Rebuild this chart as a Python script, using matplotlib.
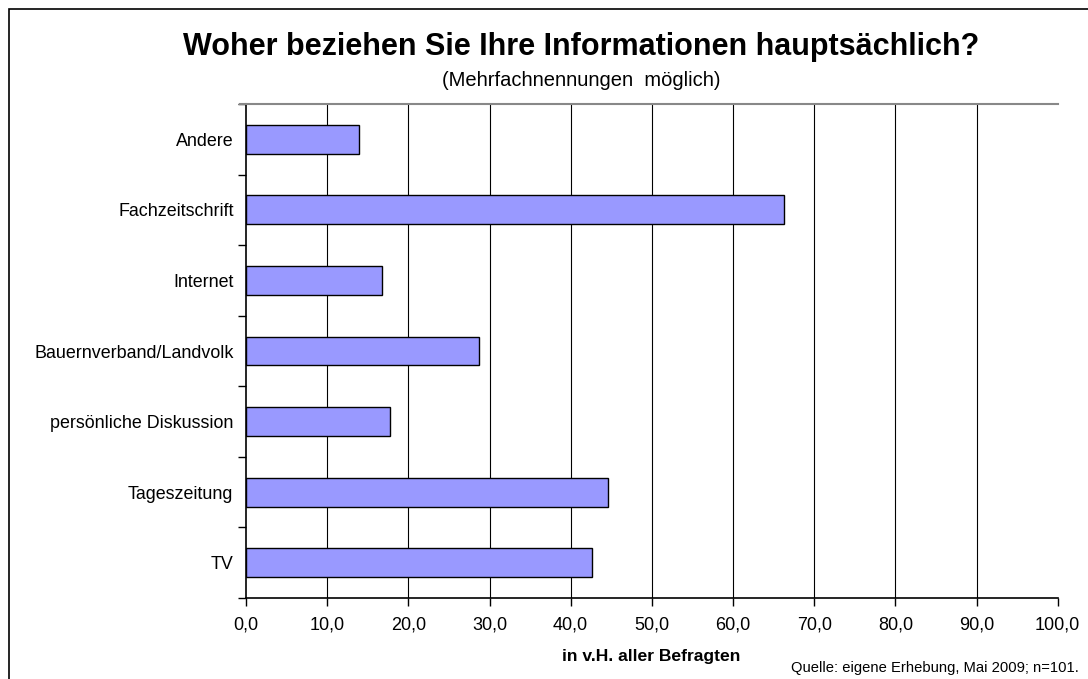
import matplotlib
matplotlib.use("Agg")
import matplotlib.pyplot as plt
from matplotlib.patches import Rectangle
from matplotlib.ticker import FixedLocator

plt.rcParams['font.family'] = ['Liberation Sans', 'DejaVu Sans']

categories = ["TV", "Tageszeitung", "persönliche Diskussion", "Bauernverband/Landvolk",
              "Internet", "Fachzeitschrift", "Andere"]
values = [42.6, 44.6, 17.8, 28.7, 16.8, 66.3, 13.9]
xticks = [0, 10, 20, 30, 40, 50, 60, 70, 80, 90, 100]

W, H = 1088, 679
fig = plt.figure(figsize=(W/100, H/100), dpi=100)
ax = fig.add_axes([246/W, 1-598/H, (1057.7-246)/W, (598-104)/H])

y = list(range(len(categories)))
ax.barh(y, values, height=0.41, color="#9999FF", edgecolor="black", linewidth=1.0, zorder=3)
ax.set_xlim(0, 100)
ax.set_ylim(-0.5, len(categories)-0.5)
ax.set_yticks(y)
ax.set_yticklabels(categories, fontsize=12.9)
ax.yaxis.set_minor_locator(FixedLocator([i - 0.5 for i in range(len(categories)+1)]))
ax.tick_params(axis='y', which='major', length=0, pad=9)
ax.tick_params(axis='y', which='minor', length=6, width=1, direction='out')
ax.set_xticks(xticks)
ax.set_xticklabels([f"{v:.1f}".replace('.', ',') for v in xticks], fontsize=13)
ax.tick_params(axis='x', length=6, width=1, direction='out', pad=7)

for v in xticks[1:-1]:
    ax.axvline(v, color="black", linewidth=0.8, zorder=1)

ax.spines['right'].set_visible(False)
ax.spines['top'].set_color('#888888')
ax.spines['top'].set_linewidth(1.5)
ax.spines['left'].set_linewidth(1.2)
ax.spines['bottom'].set_linewidth(1.2)
ax.plot([-0.75, 0], [len(categories)-0.5]*2, color='#888888', lw=1.5, clip_on=False)

fig.text(581/W, 1-47/H, "Woher beziehen Sie Ihre Informationen hauptsächlich?",
         ha='center', va='center', fontsize=22, fontweight='bold')
fig.text(581/W, 1-80/H, "(Mehrfachnennungen  möglich)", ha='center', va='center', fontsize=14.5)
fig.text(651.5/W, 1-656/H, "in v.H. aller Befragten", ha='center', va='center',
         fontsize=12.6, fontweight='bold')
fig.text(1079/W, 1-668/H, "Quelle: eigene Erhebung, Mai 2009; n=101.", ha='right', va='center',
         fontsize=10.6)

fig.patches.append(Rectangle((9/W, -0.1), 1.2, 1 - 9/H + 0.1, transform=fig.transFigure,
                             fill=False, edgecolor='black', linewidth=1.2))

fig.savefig("out.png", dpi=100, facecolor='white')
